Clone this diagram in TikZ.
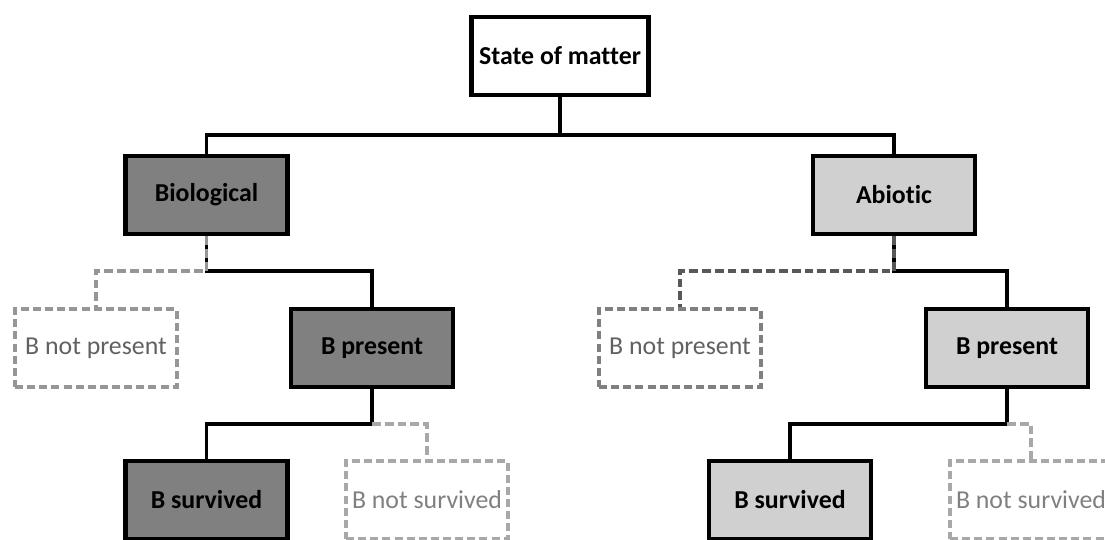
\documentclass[tikz,border=0pt]{standalone}
\usepackage{fontspec}
\setmainfont{Carlito}[Ligatures=NoCommon]
\usetikzlibrary{calc}

\definecolor{biogray}{RGB}{128,128,128}
\definecolor{abigray}{RGB}{208,208,208}
\definecolor{dashA}{RGB}{150,150,150}
\definecolor{dashB}{RGB}{88,88,88}
\definecolor{dashC}{RGB}{168,168,168}

\begin{document}
\begin{tikzpicture}[
    box/.style={draw=black, line width=2.4pt, minimum width=3.24cm, minimum height=1.56cm,
        inner sep=0pt, font=\fontsize{14.7}{17}\selectfont\bfseries},
    rootbox/.style={box, fill=white, minimum width=3.54cm},
    biobox/.style={box, fill=biogray},
    abibox/.style={box, fill=abigray},
    nobox/.style={box, draw=dashA, line width=1.8pt, fill=white, dash pattern=on 4.6pt off 2.3pt,
        font=\fontsize{14.7}{17}\selectfont, text=black!62},
    nsbox/.style={nobox, draw=dashC, text=black!50},
    link/.style={line width=2pt},
    dlink/.style={line width=1.8pt, dash pattern=on 5pt off 2.3pt}
]
    \useasboundingbox (0,0) rectangle (22.1,10.8);

    \coordinate (T0) at (11.2,8.10);
    \coordinate (T1) at (4.13,5.38);
    \coordinate (T2) at (17.88,5.38);
    \coordinate (T3) at (7.44,2.32);
    \coordinate (T4) at (20.14,2.32);

    \node [rootbox] (SM) at (11.2,9.68) {State of matter};
    \node [biobox] (BI) at (4.13,6.90) {Biological};
    \node [abibox] (AB) at (17.88,6.90) {Abiotic};
    \node [nobox] (BN1) at (1.92,3.84) {B not present};
    \node [biobox] (BP1) at (7.44,3.84) {B present};
    \node [nobox, draw=biogray] (BN2) at (13.60,3.84) {B not present};
    \node [abibox] (BP2) at (20.14,3.84) {B present};
    \node [biobox] (BS1) at (4.13,0.80) {B survived};
    \node [nsbox] (BNS1) at (8.54,0.80) {B not survived};
    \node [abibox] (BS2) at (15.80,0.80) {B survived};
    \node [nsbox] (BNS2) at (20.62,0.80) {B not survived};

    \draw [link] (SM) -- (T0);
    \draw [link] (BI) |- (T0) -| (AB);

    \draw [link] (BI) -- (T1) -| (BP1);
    \draw [dlink, dashA] (BI) -- (T1) -| (BN1);
    \draw [link] (AB) -- (T2) -| (BP2);
    \draw [dlink, dashB] (AB) -- (T2) -| (BN2);

    \draw [link] (BP1) -- (T3) -| (BS1);
    \draw [dlink, dashC] (T3) -| (BNS1);
    \draw [link] (BP2) -- (T4) -| (BS2);
    \draw [dlink, dashC] (T4) -| (BNS2);
\end{tikzpicture}
\end{document}
